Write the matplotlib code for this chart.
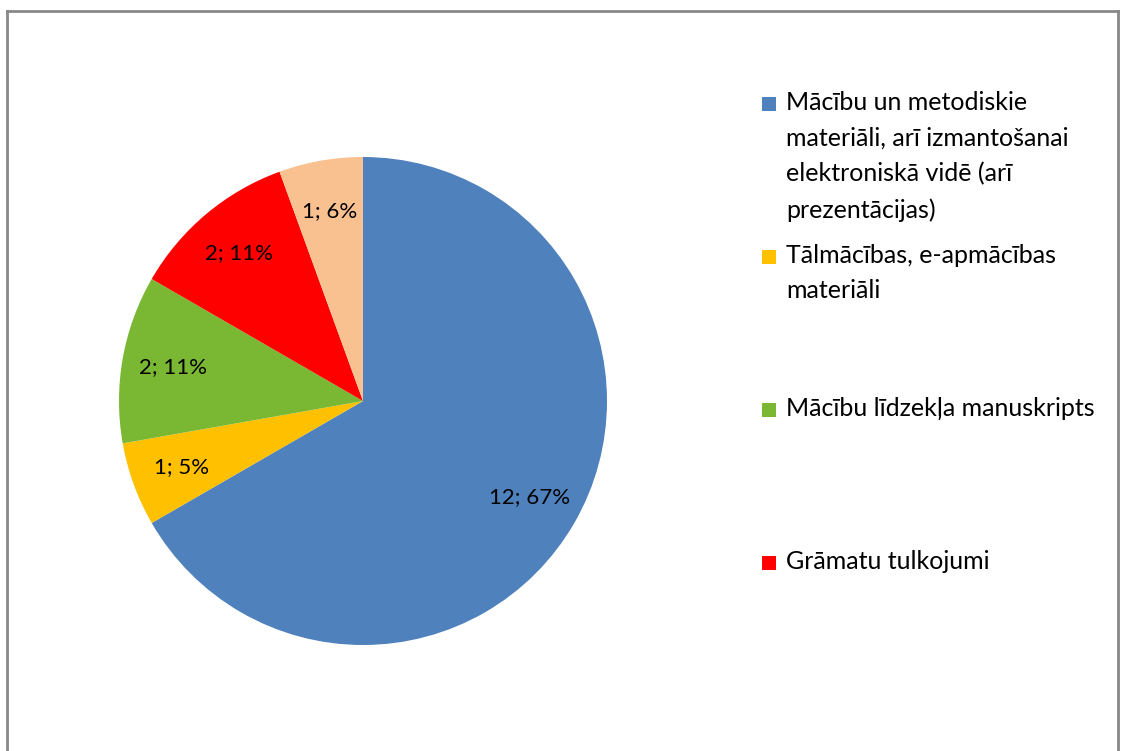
import matplotlib.pyplot as plt
from matplotlib.lines import Line2D
from matplotlib.patches import Rectangle

plt.rcParams['font.family'] = ['Lato', 'DejaVu Sans']

categories = [
    "Mācību un metodiskie\nmateriāli, arī izmantošanai\nelektroniskā vidē (arī\nprezentācijas)",
    "Tālmācības, e-apmācības\nmateriāli",
    "Mācību līdzekļa manuskripts",
    "Grāmatu tulkojumi",
    "",
]
counts = [12, 1, 2, 2, 1]
percent_labels = ["67%", "5%", "11%", "11%", "6%"]
colors = ['#4F81BD', '#FFC000', '#7AB733', '#FF0000', '#F9C090']

fig = plt.figure(figsize=(11.21, 7.51), dpi=100)
W, H = 1121, 751

# pie centred at (363, 401) px, radius ~244 px
cx, cy, r = 363, 401, 244
ax = fig.add_axes([(cx - r) / W, (H - cy - r) / H, 2 * r / W, 2 * r / H])

labels = [f"{c}; {p}" for c, p in zip(counts, percent_labels)]
wedges, texts = ax.pie(counts, colors=colors, startangle=90, counterclock=False,
                       labels=labels, labeldistance=0.79,
                       textprops=dict(fontsize=16, ha='center', va='center'))
ax.set_xlim(-1, 1)
ax.set_ylim(-1, 1)
ax.set_aspect('equal')
ax.axis('off')

# legend (only four entries visible in the original)
top = 90
step = 153
for i in range(4):
    y = top + i * step
    fig.add_artist(Rectangle((762 / W, 1 - (y + 21) / H), 14 / W, 14 / H,
                             facecolor=colors[i], edgecolor='none',
                             transform=fig.transFigure))
    fig.text(786 / W, 1 - (y + 1) / H, categories[i], fontsize=18, va='top', ha='left',
             linespacing=1.65, color='black')

# chart border
border = dict(color='#888888', linewidth=2, transform=fig.transFigure)
fig.add_artist(Line2D([7 / W, 7 / W], [0, 1 - 11 / H], **border))
fig.add_artist(Line2D([7 / W, 1118 / W], [1 - 11 / H, 1 - 11 / H], **border))
fig.add_artist(Line2D([1118 / W, 1118 / W], [0, 1 - 11 / H], **border))

fig.savefig("out.png", dpi=100)
